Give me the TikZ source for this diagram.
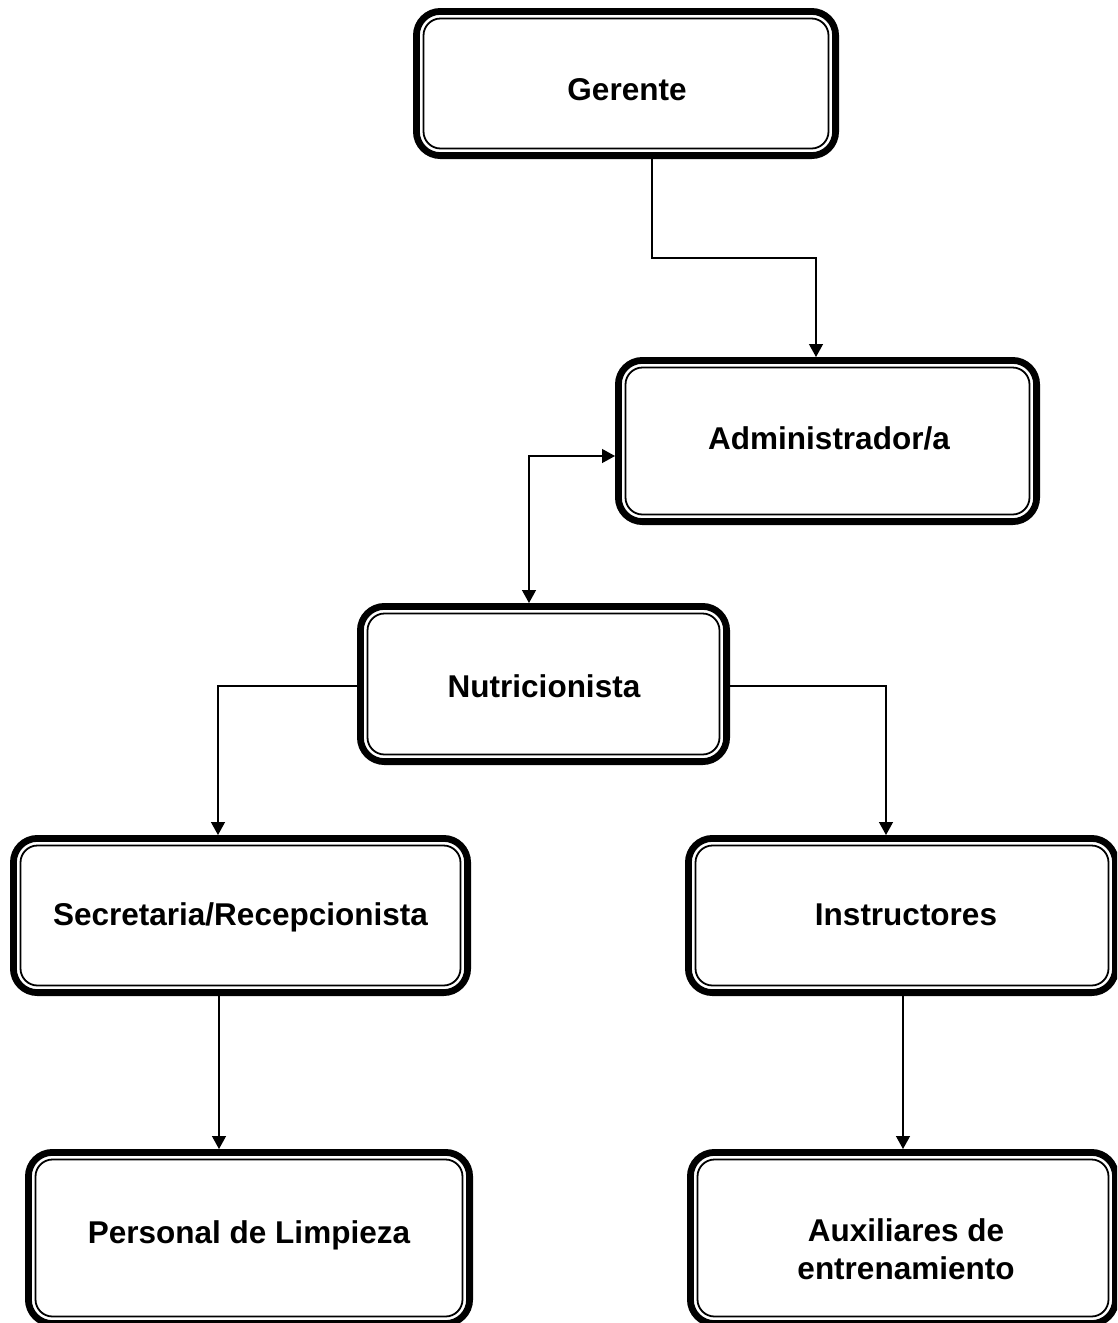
\documentclass[tikz,border=0pt]{standalone}
\usepackage{fontspec}
\setmainfont{Liberation Sans}
\usetikzlibrary{arrows.meta}
\tikzset{
  obox/.style={draw=black, line width=6.8pt, rounded corners=24pt, inner sep=0pt, fill=white},
  iline/.style={draw=black, line width=1.8pt, rounded corners=17pt},
  lbl/.style={font=\bfseries\fontsize{31.5}{38}\selectfont, inner sep=0pt, align=center, text=black},
  conn/.style={draw=black, line width=1.3pt, -{Triangle[length=13pt,width=14pt]}},
  conn2/.style={draw=black, line width=1.3pt, {Triangle[length=13pt,width=14pt]}-{Triangle[length=13pt,width=14pt]}}
}
\begin{document}
\begin{tikzpicture}[x=1pt,y=-1pt]
\useasboundingbox (0,0) rectangle (1117,1323);
\clip (0,0) rectangle (1117,1323);
\fill[white] (0,0) rectangle (1117,1323);
% boxes (outer edges measured, path = edge minus line width)
\node[obox, minimum width=419.2pt, minimum height=144.2pt] (ger) at (626,83.5) {};
\node[obox, minimum width=418.2pt, minimum height=161.2pt] (adm) at (827.5,441) {};
\node[obox, minimum width=366.2pt, minimum height=155.2pt] (nut) at (543.5,684) {};
\node[obox, minimum width=454.2pt, minimum height=154.2pt] (sec) at (240.5,915.5) {};
\node[obox, minimum width=427.2pt, minimum height=154.2pt] (ins) at (902,915.5) {};
\node[obox, minimum width=441.2pt, minimum height=171.2pt] (per) at (249,1238) {};
\node[obox, minimum width=425.2pt, minimum height=171.2pt] (aux) at (903,1238) {};
% inner thin frames
\foreach \b in {ger,adm,nut,sec,ins,per,aux}{
  \draw[iline] ([shift={(10.5,10.5)}]\b.north west) rectangle ([shift={(-10.5,-10.5)}]\b.south east);
}
% labels
\node[lbl, anchor=base] (gerT) at (627,100) {Gerente};
\node[lbl, anchor=base] (admT) at (829,449) {Administrador/a};
\node[lbl, anchor=base] (nutT) at (544,697) {Nutricionista};
\node[lbl, anchor=base] (secT) at (240.5,925) {Secretaria/Recepcionista};
\node[lbl, anchor=base] (insT) at (906,925) {Instructores};
\node[lbl, anchor=base] (perT) at (249,1243) {Personal de Limpieza};
\node[lbl] (auxT) at (906,1249.5) {Auxiliares de\\entrenamiento};
% connectors
\draw[conn] ([xshift=26pt]ger.south) -- ++(0,99) -| ([xshift=-11.5pt]adm.north);
\draw[conn2] ([yshift=-15pt]adm.west) -| ([xshift=-14.5pt]nut.north);
\draw[conn] ([yshift=-2pt]nut.west) -| ([xshift=-22.5pt]sec.north);
\draw[conn] ([yshift=-2pt]nut.east) -| ([xshift=-16pt]ins.north);
\draw[conn] ([xshift=-21.5pt]sec.south) -- ([xshift=-21.5pt]sec.south |- per.north);
\draw[conn] ([xshift=1pt]ins.south) -- ([xshift=1pt]ins.south |- aux.north);
\end{tikzpicture}
\end{document}
